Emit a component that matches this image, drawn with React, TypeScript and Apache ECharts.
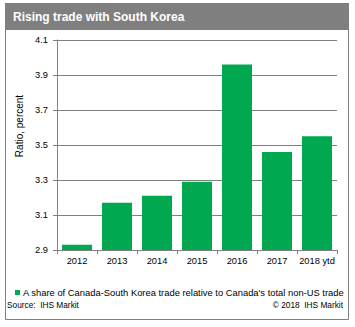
import React, { useEffect, useRef } from "react";
import * as echarts from "echarts";

const titleText = "Rising trade with South Korea";
const categories = ["2012", "2013", "2014", "2015", "2016", "2017", "2018 ytd"];
const values = [2.93, 3.17, 3.21, 3.29, 3.96, 3.46, 3.55];
const seriesName =
  "A share of Canada-South Korea trade relative to Canada's total non-US trade";
const yAxisName = "Ratio, percent";
const yMin = 2.9;
const yMax = 4.1;
const yStep = 0.2;
const sourceText = "Source:  IHS Markit";
const copyrightText = "\u00a9 2018  IHS Markit";

const FONT = "Liberation Sans, Arial, sans-serif";
const GRAY = "#808080";
const GREEN = "#00A850";

export default function App() {
  const ref = useRef<HTMLDivElement>(null);
  useEffect(() => {
    if (!ref.current) return;
    const chart = echarts.init(ref.current, null, { renderer: "svg" });
    chart.setOption({
      animation: false,
      backgroundColor: "#ffffff",
      textStyle: { fontFamily: FONT },
      grid: { left: 57, right: 18, top: 40, bottom: 77, containLabel: false },
      legend: {
        data: [seriesName],
        left: 15,
        top: 288,
        icon: "rect",
        itemWidth: 5,
        itemHeight: 5,
        padding: 0,
        textStyle: { fontSize: 9.4, color: "#000", fontFamily: FONT, padding: [0, 0, 0, -2] },
      },
      xAxis: {
        type: "category",
        data: categories,
        axisLine: { show: true, lineStyle: { color: GRAY, width: 1 } },
        axisTick: { show: true, length: 4, lineStyle: { color: GRAY } },
        axisLabel: { fontSize: 9.3, color: "#000", margin: 6, interval: 0, fontFamily: FONT },
      },
      yAxis: {
        type: "value",
        min: yMin,
        max: yMax,
        interval: yStep,
        axisLine: { show: true, lineStyle: { color: GRAY, width: 1 } },
        axisTick: { show: true, length: 4, lineStyle: { color: GRAY } },
        axisLabel: {
          fontSize: 9.3,
          color: "#000",
          margin: 9,
          fontFamily: FONT,
          formatter: (v: number) => v.toFixed(1),
        },
        splitLine: { show: true, lineStyle: { color: GRAY, width: 1 } },
      },
      series: [
        {
          name: seriesName,
          type: "bar",
          data: values,
          barCategoryGap: "25%",
          itemStyle: { color: GREEN },
        },
      ],
      graphic: [
        {
          type: "rect",
          shape: { x: 5.5, y: 3.5, width: 343, height: 316 },
          style: { fill: "none", stroke: GRAY, lineWidth: 1 },
          silent: true,
        },
        {
          type: "rect",
          shape: { x: 5, y: 3, width: 344, height: 27 },
          style: { fill: "#7f7f7f" },
          silent: true,
        },
        {
          type: "text",
          x: 13,
          y: 17,
          style: {
            text: titleText,
            fill: "#ffffff",
            font: `bold 12px ${FONT}`,
            verticalAlign: "middle",
            align: "left",
          },
        },
        {
          type: "text",
          x: 19,
          y: 126,
          rotation: Math.PI / 2,
          style: {
            text: yAxisName,
            fill: "#000",
            font: `10px ${FONT}`,
            align: "center",
            verticalAlign: "middle",
          },
        },
        {
          type: "text",
          x: 7,
          y: 305,
          style: {
            text: sourceText,
            fill: "#000",
            font: `8.3px ${FONT}`,
            align: "left",
            verticalAlign: "middle",
          },
        },
        {
          type: "text",
          x: 343,
          y: 305,
          style: {
            text: copyrightText,
            fill: "#000",
            font: `8.3px ${FONT}`,
            align: "right",
            verticalAlign: "middle",
          },
        },
      ],
    });
    return () => chart.dispose();
  }, []);
  return (
    <div
      ref={ref}
      style={{ position: "absolute", left: 0, top: 0, width: 355, height: 327 }}
    />
  );
}
